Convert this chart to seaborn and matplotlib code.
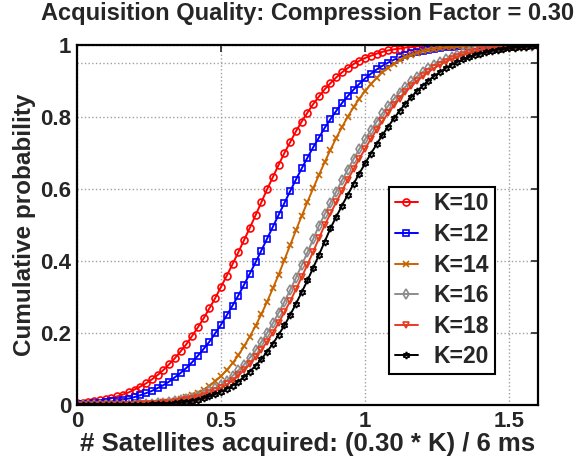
import numpy as np
import pandas as pd
import matplotlib
matplotlib.use('Agg')
import matplotlib.pyplot as plt
import seaborn as sns

# sample grid of the CDF curves
x_vals = np.linspace(0, 1.6, 81)

k10 = [.005, .006, .008, .010, .013, .016, .020, .024, .029, .035,
       .043, .051, .060, .071, .083, .097, .113, .130, .149, .169,
       .192, .216, .241, .269, .297, .328, .359, .391, .424, .458,
       .492, .527, .563, .599, .633, .667, .700, .730, .760, .787,
       .812, .836, .857, .877, .894, .910, .924, .936, .947, .956,
       .964, .970, .976, .981, .985, .988, .990, .993, .994, .996,
       .997, .997, .998, .999, .999, .999, .999, 1.0, 1.0, 1.0,
       1.0, 1.0, 1.0, 1.0, 1.0, 1.0, 1.0, 1.0, 1.0, 1.0, 1.0]
k12 = [.002, .003, .004, .005, .006, .008, .010, .012, .015, .018,
       .022, .027, .033, .039, .047, .055, .065, .077, .089, .103,
       .119, .137, .156, .176, .199, .223, .249, .276, .304, .334,
       .365, .396, .429, .462, .495, .528, .561, .594, .626, .657,
       .687, .716, .743, .770, .794, .817, .839, .858, .876, .892,
       .907, .920, .932, .942, .951, .959, .966, .972, .977, .981,
       .984, .987, .990, .992, .994, .995, .996, .997, .998, .998,
       .999, .999, .999, .999, 1.0, 1.0, 1.0, 1.0, 1.0, 1.0, 1.0]
k14 = [0, 0, 0, 0, 0, 0, 0, .001, .001, .001,
       .001, .002, .003, .004, .005, .007, .009, .012, .016, .021,
       .027, .034, .043, .053, .066, .080, .097, .116, .138, .163,
       .190, .220, .252, .287, .324, .362, .403, .444, .485, .525,
       .564, .602, .639, .675, .709, .742, .772, .801, .827, .851,
       .872, .891, .909, .924, .937, .948, .957, .966, .972, .978,
       .983, .986, .990, .992, .994, .995, .997, .997, .998, .999,
       .999, .999, 1.0, 1.0, 1.0, 1.0, 1.0, 1.0, 1.0, 1.0, 1.0]
k16 = [0, 0, 0, 0, 0, 0, 0, .001, .001, .001,
       .001, .002, .003, .004, .005, .006, .008, .010, .013, .016,
       .020, .025, .031, .038, .047, .056, .068, .081, .096, .112,
       .131, .152, .175, .200, .227, .256, .287, .319, .353, .388,
       .424, .461, .498, .530, .562, .593, .624, .654, .683, .711,
       .738, .763, .787, .810, .831, .850, .868, .884, .899, .912,
       .925, .935, .945, .953, .960, .967, .972, .977, .981, .985,
       .987, .990, .992, .993, .995, .996, .997, .997, .998, .998, .999]
k18 = [0, 0, 0, 0, 0, 0, 0, 0, .001, .001,
       .001, .002, .002, .003, .004, .005, .006, .008, .010, .013,
       .016, .020, .025, .032, .039, .047, .057, .068, .082, .097,
       .113, .132, .153, .176, .201, .228, .258, .288, .321, .355,
       .390, .426, .463, .500, .532, .564, .595, .626, .655, .684,
       .712, .739, .764, .788, .811, .832, .851, .869, .885, .900,
       .913, .925, .936, .945, .954, .961, .967, .973, .977, .981,
       .985, .988, .990, .992, .993, .995, .996, .997, .997, .998, .999]
k20 = [0, 0, 0, 0, 0, 0, 0, 0, 0, .001,
       .001, .001, .001, .002, .003, .003, .004, .006, .007, .009,
       .012, .015, .019, .024, .030, .037, .045, .054, .065, .078,
       .093, .109, .127, .148, .170, .195, .221, .250, .281, .313,
       .346, .381, .417, .454, .491, .523, .554, .584, .614, .643,
       .671, .698, .724, .750, .773, .796, .817, .837, .855, .872,
       .887, .901, .914, .925, .936, .945, .953, .960, .966, .972,
       .976, .980, .984, .987, .989, .991, .993, .994, .995, .996, .997]

labels = ['K=10', 'K=12', 'K=14', 'K=16', 'K=18', 'K=20']
series = [k10, k12, k14, k16, k18, k20]
colors = ['#ff0000', '#0000ff', '#c86400', '#8c8c8c', '#e63c1e', '#000000']
markers = ['o', 's', 'x', 'd', 'v', (6, 1, 0)]

sns.set_style('white')
plt.rcParams['font.family'] = ['Liberation Sans', 'DejaVu Sans']
plt.rcParams['font.weight'] = 'bold'

fig, ax = plt.subplots(figsize=(5.87, 4.63), dpi=100)
fig.subplots_adjust(left=0.131, right=0.9165, bottom=0.1253, top=0.9028)

for lab, ys, c, m in zip(labels, series, colors, markers):
    sns.lineplot(x=x_vals, y=ys, ax=ax, color=c, marker=m, label=lab,
                 markersize=5, markerfacecolor='none', markeredgecolor=c,
                 markeredgewidth=1.2, linewidth=1.4)

ax.set_xlim(0, 1.6)
ax.set_ylim(0, 1)
ax.set_xticks([0, 0.5, 1, 1.5])
ax.set_xticklabels(['0', '0.5', '1', '1.5'])
ax.set_yticks([0, 0.2, 0.4, 0.6, 0.8, 0.95, 1])
ax.set_yticklabels(['0', '0.2', '0.4', '0.6', '0.8', '', '1'])
ax.grid(True, linestyle=':', color='#a0a0a0', linewidth=1.0)
ax.tick_params(direction='in', top=True, right=True, length=5, width=1.2,
               labelsize=16, pad=4)
for t in ax.get_xticklabels() + ax.get_yticklabels():
    t.set_fontweight('bold')
for sp in ax.spines.values():
    sp.set_visible(True)
    sp.set_color('black')
    sp.set_linewidth(1.6)

ax.set_title('Acquisition Quality: Compression Factor = 0.30',
             fontsize=17, fontweight='bold', pad=18)
ax.set_xlabel('# Satellites acquired: (0.30 * K) / 6 ms', fontsize=18.5,
              fontweight='bold', labelpad=0)
ax.set_ylabel('Cumulative probability', fontsize=17.5, fontweight='bold',
              labelpad=3)

leg = ax.legend(loc='lower right', bbox_to_anchor=(0.907, 0.086),
                borderaxespad=0, fancybox=False, framealpha=1,
                edgecolor='black', handlelength=1.0, handletextpad=0.7,
                labelspacing=0.33, borderpad=0.25,
                prop={'size': 16.5, 'weight': 'bold'})
leg.get_frame().set_linewidth(1.5)

fig.savefig('out.png', dpi=100)
